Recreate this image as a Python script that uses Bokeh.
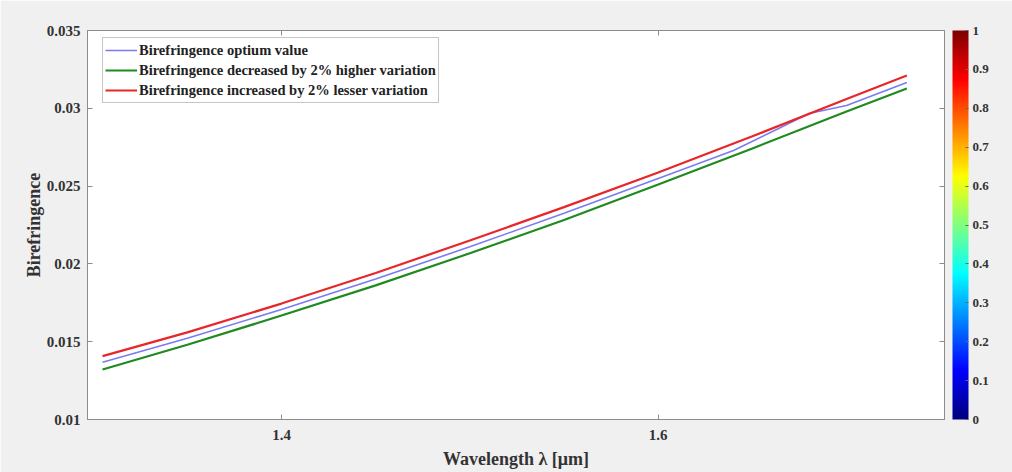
from bokeh.plotting import figure
from bokeh.models import (Range1d, LinearAxis, ColorBar, LinearColorMapper, Legend,
                          LegendItem, FixedTicker)
from bokeh.embed import file_html
from bokeh.resources import INLINE

# ---- data ----
x_red = [1.305, 1.35, 1.40, 1.45, 1.50, 1.55, 1.60, 1.65, 1.70, 1.732]
y_red = [0.01407, 0.01560, 0.01745, 0.01942, 0.02150, 0.02365, 0.02587, 0.02820, 0.03060, 0.03211]

x_green = [1.305, 1.35, 1.40, 1.45, 1.50, 1.55, 1.60, 1.65, 1.70, 1.732]
y_green = [0.01321, 0.01480, 0.01668, 0.01862, 0.02068, 0.02282, 0.02510, 0.02742, 0.02980, 0.03127]

x_blue = [1.305, 1.35, 1.40, 1.45, 1.50, 1.55, 1.60, 1.64, 1.665, 1.68, 1.70, 1.732]
y_blue = [0.01368, 0.01522, 0.01707, 0.01903, 0.02110, 0.02325, 0.02549, 0.02729, 0.02877, 0.02967, 0.03018, 0.03166]

legend_labels = ["Birefringence optium value",
                 "Birefringence decreased by 2% higher variation",
                 "Birefringence increased by 2% lesser variation"]
x_ticks = [1.4, 1.6]
y_ticks = [0.01, 0.015, 0.02, 0.025, 0.03, 0.035]
y_tick_labels = ["0.01", "0.015", "0.02", "0.025", "0.03", "0.035"]
cb_ticks = [0, 0.1, 0.2, 0.3, 0.4, 0.5, 0.6, 0.7, 0.8, 0.9, 1.0]

# jet colormap palette
def jet(n=256):
    out = []
    for i in range(n):
        v = i / (n - 1)
        r = min(max(min(4 * v - 1.5, -4 * v + 4.5), 0), 1)
        g = min(max(min(4 * v - 0.5, -4 * v + 3.5), 0), 1)
        b = min(max(min(4 * v + 0.5, -4 * v + 2.5), 0), 1)
        out.append("#%02x%02x%02x" % (int(r * 255), int(g * 255), int(b * 255)))
    return out

FONT = "Liberation Serif"
TXT = "#333333"
AX = "#8c8c8c"

p = figure(width=1012, height=472, output_backend="svg", toolbar_location=None,
           x_range=Range1d(1.297, 1.752), y_range=Range1d(0.01, 0.035),
           min_border_left=87, min_border_right=68, min_border_top=30, min_border_bottom=53)
p.background_fill_color = "white"
p.border_fill_color = "#f0f0f0"
p.outline_line_color = AX
p.xgrid.visible = False
p.ygrid.visible = False

r_blue = p.line(x_blue, y_blue, line_color="#7b7bf0", line_width=1.6)
r_green = p.line(x_green, y_green, line_color="#1f8a1f", line_width=2.2)
r_red = p.line(x_red, y_red, line_color="#e8262a", line_width=2.2)

for ax in (p.xaxis[0], p.yaxis[0]):
    ax.axis_line_color = AX
    ax.major_tick_line_color = AX
    ax.major_tick_in = 5
    ax.major_tick_out = 0
    ax.minor_tick_line_color = None
    ax.major_label_text_font = FONT
    ax.major_label_text_font_style = "bold"
    ax.major_label_text_font_size = "15px"
    ax.major_label_text_color = TXT
    ax.axis_label_text_font = FONT
    ax.axis_label_text_font_style = "bold"
    ax.axis_label_text_font_size = "18px"
    ax.axis_label_text_color = TXT

p.xaxis[0].ticker = FixedTicker(ticks=x_ticks)
p.yaxis[0].ticker = FixedTicker(ticks=y_ticks)
p.yaxis[0].major_label_overrides = dict(zip(y_ticks, y_tick_labels))
p.xaxis[0].major_label_standoff = 10
p.yaxis[0].major_label_standoff = 7
p.xaxis[0].axis_label = "Wavelength λ [μm]"
p.yaxis[0].axis_label = "Birefringence"
p.xaxis[0].axis_label_standoff = 6
p.yaxis[0].axis_label_standoff = 0

# top and right box axes with inward ticks only (no labels)
top = LinearAxis(ticker=FixedTicker(ticks=x_ticks),
                 major_label_overrides={t: "" for t in x_ticks},
                 axis_line_color=AX, major_tick_line_color=AX, major_tick_in=5,
                 major_tick_out=0, minor_tick_line_color=None, major_label_standoff=0)
right = LinearAxis(ticker=FixedTicker(ticks=y_ticks),
                   major_label_overrides={t: "" for t in y_ticks},
                   axis_line_color=AX, major_tick_line_color=AX, major_tick_in=5,
                   major_tick_out=0, minor_tick_line_color=None, major_label_standoff=0)
p.add_layout(top, "above")
p.add_layout(right, "right")

mapper = LinearColorMapper(palette=jet(256), low=0, high=1)
cb = ColorBar(color_mapper=mapper, ticker=FixedTicker(ticks=cb_ticks), width=16,
              padding=0, margin=0, location=(8, 0), bar_line_color=None,
              major_tick_line_color="#666666", major_tick_in=3, major_tick_out=0,
              minor_tick_line_color=None,
              major_label_text_font=FONT, major_label_text_font_style="bold",
              major_label_text_font_size="13px", major_label_text_color=TXT,
              label_standoff=4, background_fill_color=None, border_line_color=None)
p.add_layout(cb, "right")

legend = Legend(items=[LegendItem(label=legend_labels[0], renderers=[r_blue]),
                       LegendItem(label=legend_labels[1], renderers=[r_green]),
                       LegendItem(label=legend_labels[2], renderers=[r_red])],
                location=(15, 316))
legend.margin = 0
legend.padding = 2
legend.spacing = 0
legend.label_height = 20
legend.glyph_height = 20
legend.glyph_width = 32
legend.label_standoff = 2
legend.label_text_font = FONT
legend.label_text_font_style = "bold"
legend.label_text_font_size = "14.5px"
legend.label_text_color = "#222222"
legend.border_line_color = AX
legend.background_fill_color = "white"
legend.background_fill_alpha = 1
p.add_layout(legend, "center")

open("out.html", "w").write(file_html(p, INLINE))
